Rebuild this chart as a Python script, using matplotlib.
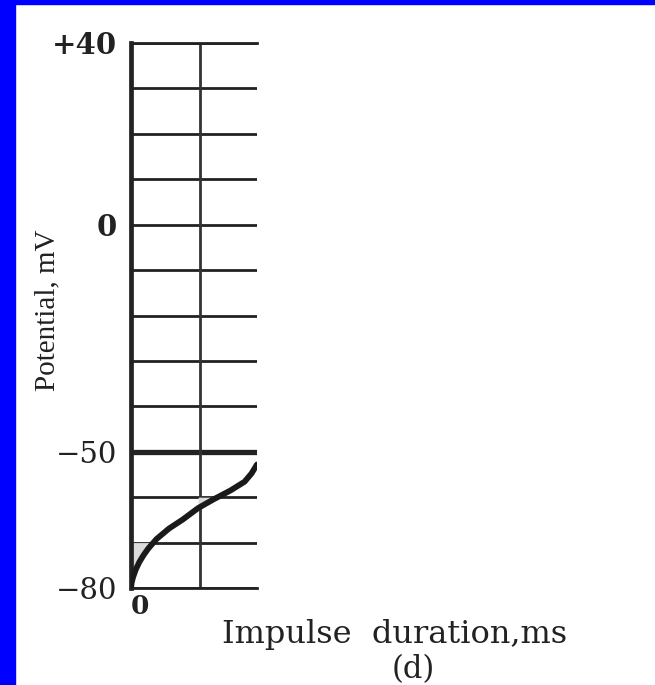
import numpy as np
import matplotlib
matplotlib.use('Agg')
import matplotlib.pyplot as plt
from matplotlib.patches import Rectangle

# 자극 지속시간에 따른 막전위 곡선 (d)
duration = np.array([0, 0.01, 0.03, 0.07, 0.12, 0.18, 0.25, 0.37, 0.55, 0.75, 0.97,
                     1.19, 1.44, 1.64, 1.74, 1.82])
potential = np.array([-80, -78.8, -77.6, -75.9, -74.3, -72.8, -71.3, -69.2, -66.9, -64.9,
                      -62.4, -60.5, -58.5, -56.6, -54.8, -52.8])

y_grid = list(range(-80, 41, 10))
y_labels = {40: '+40', 0: '0', -50: '\u221250', -80: '\u221280'}
bold_labels = ['+40', '0']
x_grid = [0, 1]
threshold = -50

fig = plt.figure(figsize=(6.55, 6.85), dpi=100)
fig.patch.set_facecolor('white')
fig.patches.append(Rectangle((0, 0), 15 / 655, 1, transform=fig.transFigure,
                             color='#0000FF', zorder=0))
fig.patches.append(Rectangle((0, 1 - 4 / 685), 1, 4 / 685, transform=fig.transFigure,
                             color='#0000FF', zorder=0))

ax = fig.add_axes([131 / 655, 97 / 685, 126 / 655, 545 / 685])
ax.set_xlim(0, 1.82)
ax.set_ylim(-80, 40)

for v in y_grid:
    lw = 3.8 if v == threshold else 2.0
    ax.axhline(v, color='#222222', lw=lw, zorder=1)
for v in x_grid[1:]:
    ax.axvline(v, color='#333333', lw=2.0, zorder=1)

# 회색 음영 부분
ax.fill_between(duration, potential, -70, where=potential <= -70, interpolate=True,
                color='#dcdcdc', zorder=2, lw=0)
ax.fill_between(duration, potential, -60, where=(duration >= 0.97) & (potential <= -60),
                interpolate=True, color='#dcdcdc', zorder=2, lw=0)

ax.plot(duration, potential, color='#1a1a1a', lw=4.2, solid_capstyle='round', zorder=3)

ax.spines['right'].set_visible(False)
ax.spines['left'].set_linewidth(3.4)
ax.spines['top'].set_linewidth(2.0)
ax.spines['bottom'].set_linewidth(2.0)
for s in ['left', 'top', 'bottom']:
    ax.spines[s].set_color('#222222')

ax.set_yticks(list(y_labels.keys()))
ax.set_yticklabels(list(y_labels.values()), family='DejaVu Serif', fontsize=21, color='#222222')
for t in ax.get_yticklabels():
    t.set_fontweight('bold' if t.get_text() in bold_labels else 'normal')
ax.set_xticks([0])
ax.set_xticklabels(['0'], family='DejaVu Serif', fontsize=19, fontweight='bold',
                   color='#222222', ha='left')
ax.tick_params(axis='y', length=0, pad=10)
ax.tick_params(axis='x', length=0, pad=4)

fig.text(47 / 655, 0.547, 'Potential, mV', rotation=90, ha='center', va='center',
         family='Liberation Serif', fontsize=21, color='#222222')
fig.text(0.603, 0.073, 'Impulse  duration,ms', ha='center', va='center',
         family='DejaVu Serif', fontsize=23, color='#222222')
fig.text(0.631, 0.022, '(d)', ha='center', va='center',
         family='DejaVu Serif', fontsize=22, color='#222222')

plt.savefig('out.png', dpi=100, facecolor=fig.get_facecolor())
